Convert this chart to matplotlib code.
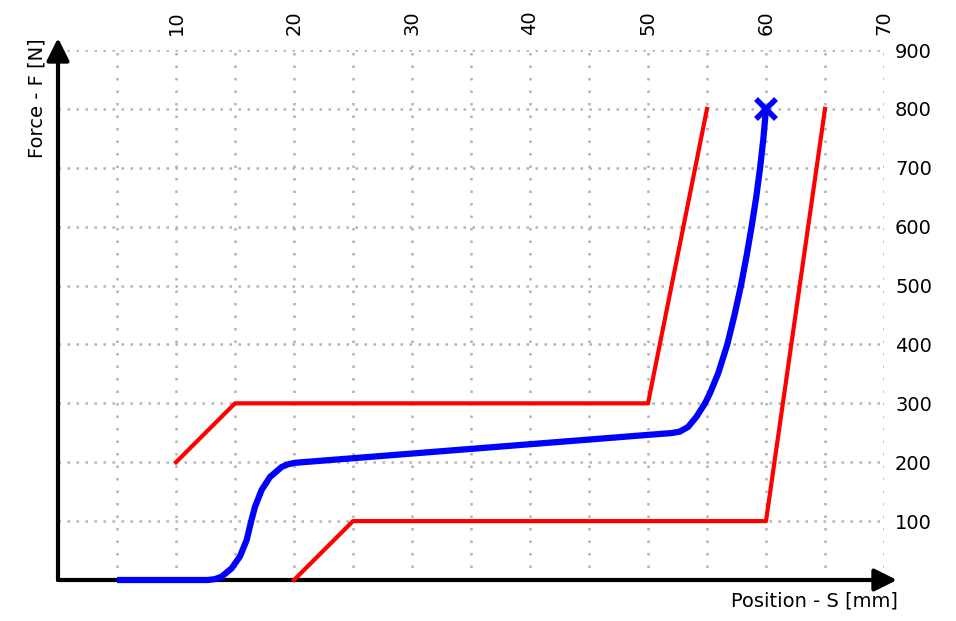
import numpy as np
import matplotlib
matplotlib.use("Agg")
import matplotlib.pyplot as plt

# measured curve (blue) - position in mm, force in N
blue_s = [5, 12.7, 13.3, 13.87, 14.72, 15.42, 15.99, 16.36, 16.69, 17.26, 17.97,
          18.96, 19.5, 20.08, 51.0, 52.0, 52.7, 53.4, 54.1, 54.83, 55.25, 55.95,
          56.72, 57.33, 57.88, 58.35, 58.78, 59.17, 59.5, 59.78, 60.0]
blue_f = [0, 0, 1.5, 5.7, 20, 40, 68, 99, 124, 153, 175,
          192, 196.5, 199, 248, 249.5, 252, 260, 277, 300, 317, 351,
          400, 450, 500, 550, 600, 650, 700, 750, 800]

# tolerance band (red)
upper_s = [10, 15, 50, 55]
upper_f = [200, 300, 300, 800]
lower_s = [20, 25, 60, 65]
lower_f = [0, 100, 100, 800]

# end point marker
end_s = [60]
end_f = [800]

x_ticks = [10, 20, 30, 40, 50, 60, 70]
x_minor = [5, 15, 25, 35, 45, 55, 65]
y_ticks = [100, 200, 300, 400, 500, 600, 700, 800, 900]

fig = plt.figure(figsize=(9.56, 6.21), dpi=100)
ax = fig.add_axes([58 / 956, 41 / 621, 826 / 956, 530 / 621])

ax.set_xlim(0, 70)
ax.set_ylim(0, 900)
for sp in ax.spines.values():
    sp.set_visible(False)

ax.set_xticks(x_ticks)
ax.set_xticks(x_minor, minor=True)
ax.set_yticks(y_ticks)
ax.tick_params(axis="x", which="both", length=0, labeltop=True, labelbottom=False,
               labelrotation=90, pad=11, labelsize=14)
ax.tick_params(axis="y", which="both", length=0, labelright=True, labelleft=False,
               pad=8, labelsize=14)
# dotted grid, vertical lines are a bit sparser than horizontal ones
ax.xaxis.grid(True, which="both", color="#b3b3b3", linestyle=(0, (1, 4)), linewidth=1.8)
ax.yaxis.grid(True, which="both", color="#b3b3b3", linestyle=(0, (1, 2.6)), linewidth=1.8)

# axis arrows
arrow = dict(arrowstyle="-|>", lw=3, color="black", mutation_scale=34,
             shrinkA=0, shrinkB=0)
ax.annotate("", xy=(1.0157, 0), xytext=(0, 0), xycoords="axes fraction",
            arrowprops=arrow, zorder=2)
ax.annotate("", xy=(0, 1.0226), xytext=(0, 0), xycoords="axes fraction",
            arrowprops=arrow, zorder=2)

ax.plot(upper_s, upper_f, color="#ff0000", lw=3, zorder=3, clip_on=False)
ax.plot(lower_s, lower_f, color="#ff0000", lw=3, zorder=3, clip_on=False)
ax.plot(blue_s, blue_f, color="#0000ff", lw=4.5, zorder=4, clip_on=False,
        solid_capstyle="butt", solid_joinstyle="round")
ax.plot(end_s, end_f, linestyle="none", marker="x", color="#0000ff",
        markersize=15, markeredgewidth=4, zorder=5, clip_on=False)

ax.text(1.017, -0.04, "Position - S [mm]", transform=ax.transAxes,
        ha="right", va="center", fontsize=14)
ax.text(-0.0254, 1.0226, "Force - F [N]", transform=ax.transAxes,
        ha="center", va="top", rotation=90, fontsize=14)

fig.savefig("out.png", dpi=100)
